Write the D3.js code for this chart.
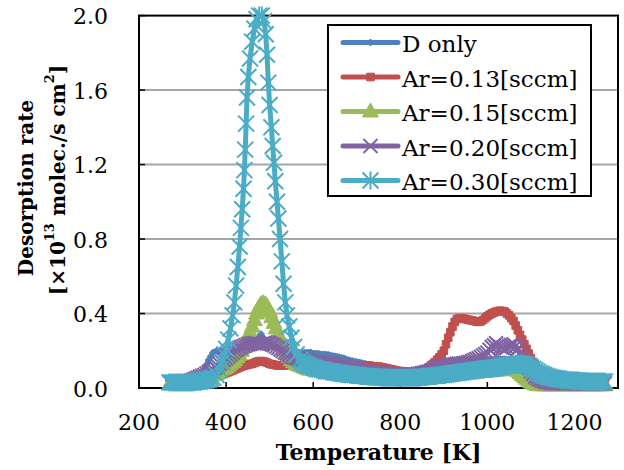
<!DOCTYPE html>
<html><head><meta charset="utf-8">
<script src="https://cdn.jsdelivr.net/npm/d3@7"></script>
<style>body{margin:0;background:#fff} svg{display:block}</style>
</head><body><svg id="c" width="624" height="470"></svg>
<script>
// ---------------- data ----------------
const temps = [
270,275,280,285,290,295,300,305,310,315,320,325,330,335,340,345,350,355,360,365,
370,375,380,385,390,395,400,405,410,415,420,425,430,435,440,445,450,455,460,465,
470,475,480,485,490,495,500,505,510,515,520,525,530,535,540,545,550,555,560,565,
570,575,580,585,590,595,600,605,610,615,620,625,630,635,640,645,650,655,660,665,
670,675,680,685,690,695,700,705,710,715,720,725,730,735,740,745,750,755,760,765,
770,775,780,785,790,795,800,805,810,815,820,825,830,835,840,845,850,855,860,865,
870,875,880,885,890,895,900,905,910,915,920,925,930,935,940,945,950,955,960,965,
970,975,980,985,990,995,1000,1005,1010,1015,1020,1025,1030,1035,1040,1045,1050,1055,1060,1065,
1070,1075,1080,1085,1090,1095,1100,1105,1110,1115,1120,1125,1130,1135,1140,1145,1150,1155,1160,1165,
1170,1175,1180,1185,1190,1195,1200,1205,1210,1215,1220,1225,1230,1235,1240,1245,1250,1255,1260,1265,
1270];

const dOnly = [
.03,.03,.03,.03,.03,.03,.03,.03,.03,.032,.035,.037,.04,.05,.06,.08,.10,.125,.15,.17,
.19,.195,.20,.20,.20,.20,.20,.205,.21,.21,.21,.215,.22,.22,.22,.225,.23,.235,.24,.25,
.26,.27,.29,.27,.26,.25,.24,.23,.22,.215,.21,.205,.20,.20,.20,.20,.20,.20,.195,.19,
.19,.19,.19,.19,.19,.19,.185,.185,.185,.182,.18,.18,.18,.178,.175,.172,.17,.168,.165,.162,
.16,.155,.15,.148,.145,.142,.14,.137,.135,.132,.13,.125,.12,.117,.115,.112,.11,.107,.105,.102,
.10,.097,.095,.092,.09,.09,.09,.087,.085,.085,.085,.085,.085,.085,.085,.087,.09,.092,.095,.097,
.10,.105,.11,.115,.12,.125,.13,.135,.14,.142,.145,.148,.15,.15,.15,.15,.15,.15,.15,.15,
.15,.15,.15,.15,.15,.15,.15,.15,.15,.152,.155,.155,.155,.155,.155,.152,.15,.15,.15,.148,
.145,.142,.14,.135,.13,.125,.12,.11,.10,.09,.08,.072,.065,.06,.055,.05,.045,.042,.04,.037,
.035,.035,.035,.032,.03,.03,.03,.03,.03,.03,.03,.03,.03,.03,.03,.03,.03,.03,.03,.03,
.03];

const ar013 = [
.03,.03,.03,.03,.03,.03,.03,.03,.03,.03,.03,.032,.035,.037,.04,.042,.045,.047,.05,.055,
.06,.062,.065,.067,.07,.075,.08,.085,.09,.095,.10,.105,.11,.115,.12,.122,.125,.128,.13,.135,
.14,.143,.145,.143,.14,.135,.13,.127,.125,.122,.12,.12,.12,.12,.12,.12,.12,.12,.12,.12,
.12,.12,.12,.12,.12,.12,.12,.12,.12,.12,.12,.12,.12,.12,.12,.12,.12,.12,.12,.12,
.12,.12,.12,.12,.12,.12,.12,.12,.12,.12,.12,.12,.12,.117,.115,.115,.115,.112,.11,.107,
.105,.102,.10,.097,.095,.092,.09,.09,.09,.087,.085,.085,.085,.087,.09,.092,.095,.097,.10,.11,
.12,.13,.14,.152,.165,.18,.20,.235,.27,.30,.33,.355,.37,.373,.375,.373,.37,.367,.365,.362,
.36,.357,.355,.358,.365,.375,.385,.393,.40,.405,.41,.413,.415,.413,.41,.40,.39,.375,.36,.335,
.31,.285,.26,.235,.21,.185,.16,.14,.12,.105,.09,.08,.07,.062,.055,.05,.045,.042,.04,.037,
.035,.032,.03,.03,.03,.03,.03,.03,.03,.03,.03,.03,.03,.03,.03,.03,.03,.03,.03,.03,
.03];

const ar015 = [
.02,.02,.02,.02,.02,.02,.02,.02,.02,.022,.025,.027,.03,.035,.04,.045,.05,.055,.06,.065,
.07,.075,.08,.09,.10,.105,.11,.12,.13,.14,.15,.165,.18,.20,.22,.245,.27,.30,.33,.365,
.40,.43,.45,.455,.45,.435,.41,.38,.35,.32,.29,.26,.23,.205,.18,.165,.15,.14,.13,.125,
.12,.115,.11,.105,.10,.10,.10,.097,.095,.095,.095,.092,.09,.09,.09,.087,.085,.085,.085,.082,
.08,.08,.08,.077,.075,.075,.075,.072,.07,.07,.07,.067,.065,.065,.065,.062,.06,.06,.06,.057,
.055,.055,.055,.052,.05,.05,.05,.05,.05,.05,.05,.05,.05,.05,.05,.05,.05,.052,.055,.057,
.06,.06,.06,.062,.065,.065,.065,.067,.07,.07,.07,.072,.075,.075,.075,.077,.08,.08,.08,.082,
.085,.085,.085,.087,.09,.09,.09,.09,.09,.092,.095,.095,.095,.097,.10,.10,.10,.10,.10,.10,
.09,.08,.07,.06,.05,.04,.03,.025,.02,.017,.015,.015,.015,.015,.015,.015,.015,.015,.015,.015,
.015,.015,.015,.015,.015,.015,.015,.015,.015,.015,.015,.015,.015,.015,.015,.015,.015,.015,.015,.015,
.015];

const ar020 = [
.03,.03,.03,.03,.03,.03,.03,.032,.035,.037,.04,.045,.05,.055,.06,.065,.07,.077,.085,.092,
.10,.11,.12,.13,.14,.15,.16,.17,.18,.19,.20,.207,.215,.22,.225,.23,.235,.237,.24,.24,
.24,.237,.235,.24,.245,.243,.24,.235,.23,.222,.215,.207,.20,.192,.185,.177,.17,.165,.16,.157,
.155,.152,.15,.147,.145,.142,.14,.14,.14,.137,.135,.132,.13,.13,.13,.127,.125,.122,.12,.117,
.115,.112,.11,.107,.105,.102,.10,.097,.095,.092,.09,.087,.085,.085,.085,.082,.08,.08,.08,.077,
.075,.075,.075,.072,.07,.07,.07,.07,.07,.07,.07,.07,.07,.072,.075,.077,.08,.082,.085,.087,
.09,.095,.10,.105,.11,.115,.12,.122,.125,.125,.125,.127,.13,.13,.13,.132,.135,.137,.14,.145,
.15,.155,.16,.167,.175,.182,.19,.205,.22,.23,.24,.23,.22,.215,.21,.217,.225,.23,.235,.225,
.21,.19,.17,.15,.13,.11,.09,.075,.06,.052,.045,.04,.035,.032,.03,.027,.025,.025,.025,.025,
.025,.025,.025,.025,.025,.025,.025,.025,.025,.025,.025,.025,.025,.025,.025,.025,.025,.025,.025,.025,
.025];

const tempsAr030 = [
270,275,280,285,290,295,300,305,310,315,320,325,330,335,340,345,350,355,360,365,
370,378,385,391,396,400,405,410,415,419,423,427,431,434,437,440,442,444,446,448,
451,455,460,465,470,476,482,487,491,494,497,500,504,507,510,513,517,520,524,528,
532,536,540,545,550,556,562,570,575,580,585,590,595,
600,605,610,615,620,625,630,635,640,645,650,655,660,665,670,675,680,685,690,695,
700,705,710,715,720,725,730,735,740,745,750,755,760,765,770,775,780,785,790,795,
800,805,810,815,820,825,830,835,840,845,850,855,860,865,870,875,880,885,890,895,
900,905,910,915,920,925,930,935,940,945,950,955,960,965,970,975,980,985,990,995,
1000,1005,1010,1015,1020,1025,1030,1035,1040,1045,1050,1055,1060,1065,1070,1075,1080,1085,1090,1095,
1100,1105,1110,1115,1120,1125,1130,1135,1140,1145,1150,1155,1160,1165,1170,1175,1180,1185,1190,1195,
1200,1205,1210,1215,1220,1225,1230,1235,1240,1245,1250,1255,1260,1265,1270];

const ar030 = [
.03,.03,.03,.03,.03,.03,.03,.03,.03,.03,.03,.03,.033,.035,.035,.037,.04,.042,.045,.05,
.055,.07,.10,.14,.18,.21,.26,.32,.39,.46,.55,.65,.76,.86,.96,1.07,1.17,1.28,1.42,1.56,
1.67,1.77,1.86,1.93,1.98,2.00,2.00,1.97,1.90,1.79,1.64,1.52,1.40,1.30,1.21,1.11,1.00,.91,.80,.68,
.56,.46,.39,.33,.27,.22,.18,.15,.14,.13,.125,.12,.115,
.11,.105,.10,.10,.10,.095,.09,.09,.09,.087,.085,.082,.08,.077,.075,.075,.075,.072,.07,.07,
.07,.067,.065,.065,.065,.062,.06,.06,.06,.06,.06,.057,.055,.055,.055,.055,.055,.055,.055,.055,
.055,.055,.055,.055,.055,.055,.055,.055,.055,.057,.06,.06,.06,.062,.065,.065,.065,.067,.07,.07,
.07,.072,.075,.077,.08,.08,.08,.082,.085,.087,.09,.09,.09,.092,.095,.097,.10,.10,.10,.102,
.105,.105,.105,.107,.11,.112,.115,.117,.12,.12,.12,.122,.125,.127,.13,.13,.13,.127,.125,.117,
.11,.102,.095,.087,.08,.075,.07,.065,.06,.057,.055,.052,.05,.047,.045,.045,.045,.042,.04,.04,
.04,.04,.04,.037,.035,.035,.035,.035,.035,.035,.035,.035,.035,.035,.035];

const seriesNames = ["D only","Ar=0.13[sccm]","Ar=0.15[sccm]","Ar=0.20[sccm]","Ar=0.30[sccm]"];
const xTicks = [200,400,600,800,1000,1200];
const yTicks = [0,0.4,0.8,1.2,1.6,2.0];
const xTitle = "Temperature [K]";
const yTitle1 = "Desorption rate";

// ---------------- layout / styles ----------------
const colors = ["#4F81BD","#C0504D","#9BBB59","#8064A2","#4BACC6"];
const markerKinds = ["diamond","square","triangle","x","star"];
const series = [
  {name:seriesNames[0], t:temps, v:dOnly},
  {name:seriesNames[1], t:temps, v:ar013},
  {name:seriesNames[2], t:temps, v:ar015},
  {name:seriesNames[3], t:temps, v:ar020},
  {name:seriesNames[4], t:tempsAr030, v:ar030}
];

const svg = d3.select("#c");
const L=139, R=618, T=15.6, B=388;
const x = d3.scaleLinear().domain([200,1300]).range([L,R]);
const y = d3.scaleLinear().domain([0,2]).range([B,T]);
const serif = "'DejaVu Serif', serif";

svg.append("rect").attr("width",624).attr("height",470).attr("fill","#fff");

// gridlines
svg.append("g").selectAll("line").data(yTicks.filter(d=>d>0 && d<2)).join("line")
  .attr("x1",L).attr("x2",R).attr("y1",d=>y(d)).attr("y2",d=>y(d))
  .attr("stroke","#A6A6A6").attr("stroke-width",2);

// frame
svg.append("rect").attr("x",L).attr("y",T).attr("width",R-L).attr("height",B-T)
  .attr("fill","none").attr("stroke","#000").attr("stroke-width",2);

// inner ticks
svg.append("g").selectAll("line").data(yTicks).join("line")
  .attr("x1",L).attr("x2",L+6).attr("y1",d=>y(d)).attr("y2",d=>y(d))
  .attr("stroke","#000").attr("stroke-width",1.5);
svg.append("g").selectAll("line").data(xTicks.filter(d=>d>200)).join("line")
  .attr("x1",d=>x(d)).attr("x2",d=>x(d)).attr("y1",B).attr("y2",B-6)
  .attr("stroke","#000").attr("stroke-width",1.5);

// tick labels
svg.append("g").selectAll("text").data(yTicks).join("text")
  .attr("x",108).attr("y",d=>y(d)+8.5).attr("text-anchor","end")
  .attr("font-family",serif).attr("font-size",22).attr("fill","#000")
  .text(d=>d.toFixed(1));
svg.append("g").selectAll("text").data(xTicks).join("text")
  .attr("x",d=>x(d)).attr("y",430).attr("text-anchor","middle")
  .attr("font-family",serif).attr("font-size",22).attr("fill","#000")
  .text(d=>d);

// axis titles
svg.append("text").attr("x",(L+R)/2).attr("y",460).attr("text-anchor","middle")
  .attr("font-family",serif).attr("font-weight","bold").attr("font-size",22)
  .text(xTitle);
svg.append("text").attr("transform","translate(26,188) rotate(-90)")
  .attr("text-anchor","middle").attr("dominant-baseline","central")
  .attr("font-family",serif).attr("font-weight","bold").attr("font-size",20)
  .text(yTitle1);
const t2 = svg.append("text").attr("transform","translate(58,180) rotate(-90)")
  .attr("text-anchor","middle").attr("dominant-baseline","central")
  .attr("font-family",serif).attr("font-weight","bold").attr("font-size",20);
t2.append("tspan").text("[×10");
t2.append("tspan").attr("font-size",13).attr("dy","-0.7em").text("13");
t2.append("tspan").attr("dy","0.455em").text(" molec./s cm");
t2.append("tspan").attr("font-size",13).attr("dy","-0.7em").text("2");
t2.append("tspan").attr("dy","0.455em").text("]");

// markers
function markerPath(kind){
  switch(kind){
    case "diamond": return "M0,-3.5L3.5,0L0,3.5L-3.5,0Z";
    case "square": return "M-3.8,-3.8H3.8V3.8H-3.8Z";
    case "triangle": return "M0,-8.5L8,5.5L-8,5.5Z";
    case "x": return "M-7,-7L7,7M-7,7L7,-7";
    case "star": return "M-8,-8L8,8M-8,8L8,-8M0,-9V9";
  }
}
function drawMarker(g, kind, color){
  const p = g.append("path").attr("d", markerPath(kind));
  if(kind==="x"||kind==="star") p.attr("fill","none").attr("stroke",color).attr("stroke-width",2);
  else p.attr("fill",color).attr("stroke",color).attr("stroke-width",1);
}

const line = d3.line().x(d=>x(d[0])).y(d=>y(d[1]));
const plot = svg.append("g");
series.forEach((s,i)=>{
  const n = Math.min(s.t.length, s.v.length);
  const pts = d3.range(n).map(k=>[s.t[k], s.v[k]]);
  const g = plot.append("g");
  g.append("path").attr("d",line(pts)).attr("fill","none")
    .attr("stroke",colors[i]).attr("stroke-width",5)
    .attr("stroke-linejoin","round").attr("stroke-linecap","round");
  g.selectAll("path.m").data(pts).join("path").attr("class","m")
    .attr("transform",p=>`translate(${x(p[0])},${y(p[1])})`)
    .attr("d",markerPath(markerKinds[i]))
    .each(function(){
      const el = d3.select(this);
      if(markerKinds[i]==="x"||markerKinds[i]==="star") el.attr("fill","none").attr("stroke",colors[i]).attr("stroke-width",2);
      else el.attr("fill",colors[i]).attr("stroke",colors[i]).attr("stroke-width",1);
    });
});

// legend
const lg = svg.append("g");
lg.append("rect").attr("x",328).attr("y",25).attr("width",263).attr("height",171)
  .attr("fill","#fff").attr("stroke","#000").attr("stroke-width",2);
const legY = [42.5,77,111.5,146,180.5];
series.forEach((s,i)=>{
  const yy = legY[i];
  lg.append("line").attr("x1",343).attr("x2",398).attr("y1",yy).attr("y2",yy)
    .attr("stroke",colors[i]).attr("stroke-width",5).attr("stroke-linecap","round");
  const mg = lg.append("g").attr("transform",`translate(370.5,${yy})`);
  drawMarker(mg, markerKinds[i], colors[i]);
  lg.append("text").attr("x",402).attr("y",yy+9.5)
    .attr("font-family",serif).attr("font-size",23).attr("fill","#000").text(s.name);
});
</script>
</body></html>
